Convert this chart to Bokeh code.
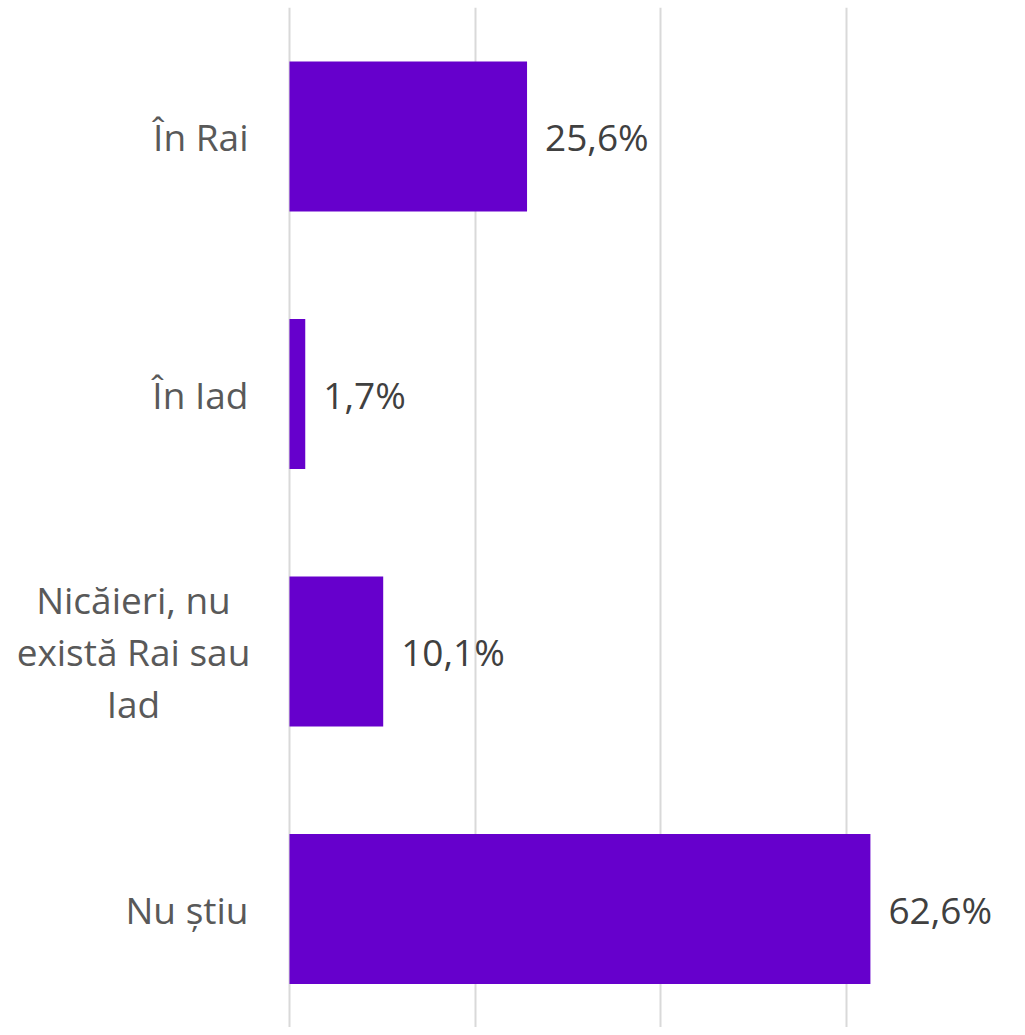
from bokeh.plotting import figure
from bokeh.models import ColumnDataSource, Range1d, FixedTicker
from bokeh.core.properties import value
from bokeh.embed import file_html
from bokeh.resources import INLINE

categories = ["În Rai", "În Iad", "Nicăieri, nu\nexistă Rai sau\nIad", "Nu știu"]
values = [25.6, 1.7, 10.1, 62.6]
grid_ticks = [0, 20, 40, 60, 80]

positions = list(range(len(categories)))
labels = [f"{v:.1f}".replace(".", ",") + "%" for v in values]

src = ColumnDataSource(dict(y=positions, v=values, lab=labels))

# category label rows (multi-line labels are centred within their block)
LINE_GAP = 52
rows = dict(x=[], y=[], text=[], xo=[], yo=[], align=[])
for pos, cat in zip(positions, categories):
    lines = cat.split("\n")
    n = len(lines)
    for k, line in enumerate(lines):
        rows["x"].append(0)
        rows["y"].append(pos)
        rows["text"].append(line)
        rows["xo"].append(-41 if n == 1 else -156)
        rows["yo"].append((k - (n - 1) / 2) * LINE_GAP)
        rows["align"].append("right" if n == 1 else "center")
cat_src = ColumnDataSource(rows)

FONT = "Open Sans"

p = figure(width=1017, height=1027, output_backend="svg", toolbar_location=None,
           x_range=Range1d(-31.14, 78.45), y_range=Range1d(3.460, -0.501),
           min_border_left=0, min_border_right=0, min_border_top=7, min_border_bottom=0)
p.outline_line_color = None
p.background_fill_color = "white"
p.border_fill_color = "white"

p.hbar(y="y", right="v", left=0, height=0.583, source=src,
       fill_color="#6600CC", line_color=None)

p.text(x="v", y="y", text="lab", source=src, x_offset=18,
       text_align="left", text_baseline="middle",
       text_font=value(FONT), text_font_size="37px", text_color="#404040")

p.text(x="x", y="y", text="text", source=cat_src, x_offset="xo", y_offset="yo",
       text_align="align", text_baseline="middle",
       text_font=value(FONT), text_font_size="37px", text_color="#595959")

p.xaxis.visible = False
p.yaxis.visible = False
p.xgrid.ticker = FixedTicker(ticks=grid_ticks)
p.xgrid.grid_line_color = "#D9D9D9"
p.xgrid.grid_line_width = 2
p.ygrid.visible = False

open("out.html", "w").write(file_html(p, INLINE))
